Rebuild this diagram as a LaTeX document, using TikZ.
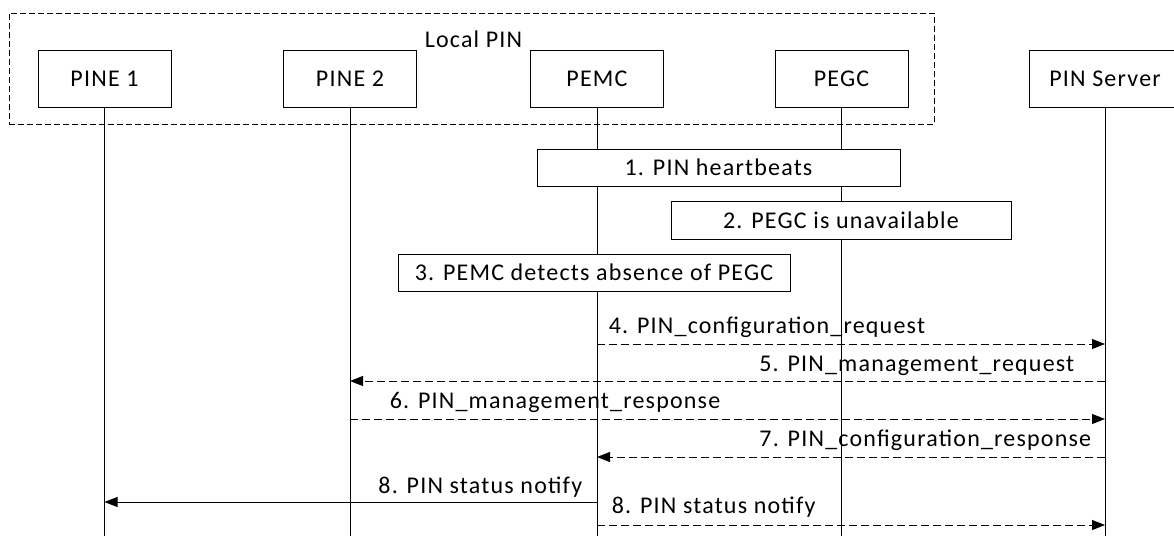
\documentclass[tikz,border=0pt]{standalone}
\usepackage{fontspec}
\setmainfont{Carlito}[LetterSpace=5]
\usetikzlibrary{arrows.meta}

\begin{document}
\begin{tikzpicture}[x=1pt,y=-1pt,line width=0.9pt,
  every node/.style={font=\fontsize{24}{29}\selectfont},
  entity/.style={draw,fill=white,minimum width=133pt,minimum height=57pt,inner sep=0pt},
  stepbox/.style={draw,fill=white,minimum height=37pt,inner sep=0pt},
  sig/.style={-{Triangle[length=13pt,width=10pt]}},
  msg/.style={sig,dash pattern=on 8pt off 4pt}]
  \useasboundingbox (0,0) rectangle (1174,536);
  \clip (0,0) rectangle (1174,536);
  % local PIN group
  \node[draw,dash pattern=on 6pt off 3pt,minimum width=925pt,minimum height=111pt,inner sep=0pt] (localpin) at (471.5,68.5) {};
  \node[anchor=base west] (localpintxt) at (421,47) {Local PIN};
  % entities
  \node[entity] (pine1) at (104.5,78.5) {PINE 1};
  \node[entity] (pine2) at (350,78.5) {PINE 2};
  \node[entity] (pemc) at (597,78.5) {PEMC};
  \node[entity] (pegc) at (841.5,78.5) {PEGC};
  \node[entity,minimum width=152pt] (srv) at (1105,78.5) {PIN Server};
  % lifelines
  \coordinate (bot) at (0,536);
  \foreach \e in {pine1,pine2,pemc,pegc,srv}
    \draw (\e.south) -- (\e |- bot);
  % steps
  \node[stepbox,minimum width=363pt] (s1) at (718.5,167.5) {1. PIN heartbeats};
  \node[stepbox,minimum width=340pt,minimum height=38pt] (s2) at (841,220) {2. PEGC is unavailable};
  \node[stepbox,minimum width=392pt] (s3) at (594,272.5) {3. PEMC detects absence of PEGC};
  % messages
  \coordinate (y4) at (0,344);
  \coordinate (y5) at (0,381);
  \coordinate (y6) at (0,419);
  \coordinate (y7) at (0,457);
  \coordinate (y8) at (0,502);
  \coordinate (y9) at (0,525);
  \draw[msg] (pemc |- y4) -- (srv |- y4);
  \node[anchor=base west] (t4) at (605,333) {4. PIN\_configuration\_request};
  \draw[msg] (srv |- y5) -- (pine2 |- y5);
  \node[anchor=base east] (t5) at (1078,371) {5. PIN\_management\_request};
  \draw[msg] (pine2 |- y6) -- (srv |- y6);
  \node[anchor=base west] (t6) at (386,408) {6. PIN\_management\_response};
  \draw[msg] (srv |- y7) -- (pemc |- y7);
  \node[anchor=base east] (t7) at (1095,446) {7. PIN\_configuration\_response};
  \draw[sig] (pemc |- y8) -- (pine1 |- y8);
  \node[anchor=base east] (t8) at (586,493) {8. PIN status notify};
  \draw[msg] (pemc |- y9) -- (srv |- y9);
  \node[anchor=base west] (t9) at (608,513) {8. PIN status notify};
\end{tikzpicture}
\end{document}
